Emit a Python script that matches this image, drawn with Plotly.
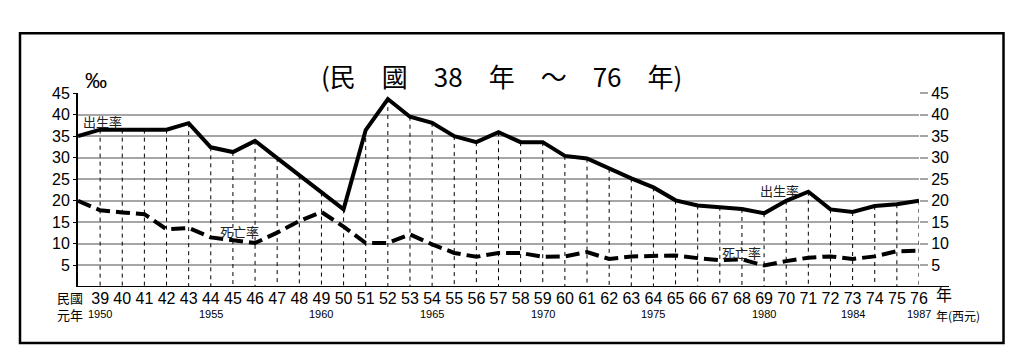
import plotly.graph_objects as go

# ---------------- data ----------------
years_roc = list(range(38, 77))  # 民國 38 .. 76
birth_rate = [35.0, 36.5, 36.5, 36.5, 36.5, 38.0, 32.4, 31.3, 33.9, 29.9,
              25.9, 21.9, 18.0, 36.4, 43.6, 39.5, 38.1, 35.0, 33.6, 35.9,
              33.6, 33.6, 30.4, 29.8, 27.4, 25.2, 23.1, 20.1, 18.9, 18.6,
              18.1, 17.1, 20.0, 22.1, 18.0, 17.4, 18.8, 19.2, 20.0]
death_rate = [20.0, 17.8, 17.3, 16.9, 13.4, 13.7, 11.5, 10.9, 10.2, 12.6,
              15.3, 17.4, 14.0, 10.2, 10.2, 12.2, 9.9, 7.9, 7.0, 7.9,
              7.9, 7.0, 7.1, 8.1, 6.5, 7.1, 7.2, 7.3, 6.7, 6.2,
              6.4, 5.0, 6.0, 6.8, 7.1, 6.5, 7.1, 8.3, 8.4]
tick_years = list(range(39, 77))
tick_labels = [str(v) for v in tick_years]
western_pos = [39, 44, 49, 54, 59, 64, 69, 73, 76]
western_labels = ["1950", "1955", "1960", "1965", "1970", "1975", "1980", "1984", "1987"]
y_ticks = [5, 10, 15, 20, 25, 30, 35, 40, 45]
title_text = "(民\u3000國\u300038\u3000年\u3000～\u300076\u3000年)"
series_labels = [("出生率", 39.1, 38.3), ("出生率", 69.7, 22.5),
                 ("死亡率", 45.3, 12.9), ("死亡率", 68.0, 8.1)]

# ---------------- layout constants ----------------
OFF = 8                      # page body margin of the rendered html
W, H = 1035, 363
PL, PT, PW, PH = 78, 93, 841, 194   # plot area in screen pixels
L, T = PL - OFF, PT - OFF
R, B = W - L - PW, H - T - PH
NUM_FONT = "Liberation Sans Narrow, Arial Narrow, Liberation Sans, Arial, sans-serif"
CJK_FONT = "Noto Sans CJK TC, Noto Sans CJK SC, sans-serif"


def px_x(px):
    return (px - PL) / PW


def px_y(py):
    return (PT + PH - py) / PH


fig = go.Figure()

# drop lines from birth-rate points to the axis
dx, dy = [], []
for xv, yv in zip(years_roc[1:], birth_rate[1:]):
    dx += [xv, xv, None]
    dy += [yv, 0, None]
fig.add_trace(go.Scatter(x=dx, y=dy, mode="lines",
                         line=dict(color="black", width=1, dash="4px,4px"),
                         hoverinfo="skip", showlegend=False))

fig.add_trace(go.Scatter(x=years_roc, y=death_rate, mode="lines",
                         line=dict(color="black", width=4, dash="14px,6px"),
                         name="死亡率", showlegend=False))
fig.add_trace(go.Scatter(x=years_roc, y=birth_rate, mode="lines",
                         line=dict(color="black", width=4),
                         name="出生率", showlegend=False))
# anchor trace for the right-hand axis
fig.add_trace(go.Scatter(x=years_roc, y=birth_rate, yaxis="y2", mode="lines",
                         line=dict(color="rgba(0,0,0,0)", width=0),
                         hoverinfo="skip", showlegend=False))

fig.update_layout(
    width=W, height=H,
    margin=dict(l=L, r=R, t=T, b=B),
    paper_bgcolor="white", plot_bgcolor="white",
    showlegend=False,
    xaxis=dict(range=[38, 76], tickvals=tick_years, ticktext=tick_labels,
               showgrid=False, zeroline=False, showline=False, ticks="",
               tickfont=dict(family=NUM_FONT, size=16, color="black"),
               fixedrange=True),
    yaxis=dict(range=[0, 45], tickvals=y_ticks, showgrid=True,
               gridcolor="#a6a6a6", gridwidth=1.5, zeroline=False,
               showline=True, linecolor="black", linewidth=2,
               ticks="outside", ticklen=3, tickcolor="black",
               tickfont=dict(family=NUM_FONT, size=16, color="black")),
    yaxis2=dict(range=[0, 45], tickvals=y_ticks, overlaying="y", side="right",
                showgrid=False, zeroline=False, showline=False,
                ticks="outside", ticklen=8, tickwidth=1.5, tickcolor="#a6a6a6",
                tickfont=dict(family=NUM_FONT, size=16, color="black")),
)

shapes = [
    # extended x-axis line
    dict(type="line", xref="paper", yref="y", x0=0, x1=px_x(949), y0=0, y1=0,
         line=dict(color="black", width=2)),
    # outer frame
    dict(type="rect", xref="paper", yref="paper",
         x0=px_x(20), x1=px_x(1003.5), y0=px_y(343), y1=px_y(33.3),
         line=dict(color="black", width=2.5)),
]
fig.update_layout(shapes=shapes)

ann = []
ann.append(dict(text=title_text, xref="paper", yref="paper", x=px_x(501), y=px_y(75),
                showarrow=False, font=dict(family=CJK_FONT, size=26, color="black"),
                xanchor="center", yanchor="middle"))
ann.append(dict(text="‰", xref="paper", yref="paper", x=px_x(96), y=px_y(80),
                showarrow=False, font=dict(family="Liberation Sans, Arial, sans-serif", size=22, color="black"),
                xanchor="center", yanchor="middle"))
for txt, xv, yv in series_labels:
    ann.append(dict(text=txt, x=xv, y=yv, xref="x", yref="y", showarrow=False,
                    font=dict(family=CJK_FONT, size=13, color="#222"),
                    xanchor="center", yanchor="middle"))
for xv, txt in zip(western_pos, western_labels):
    ann.append(dict(text=txt, x=xv, y=px_y(314), xref="x", yref="paper", showarrow=False,
                    font=dict(family="Liberation Sans, Arial, sans-serif", size=11, color="black"),
                    xanchor="center", yanchor="middle"))
ann.append(dict(text="民國", xref="paper", yref="paper", x=px_x(70), y=px_y(297),
                showarrow=False, font=dict(family=CJK_FONT, size=13, color="black"),
                xanchor="center", yanchor="middle"))
ann.append(dict(text="元年", xref="paper", yref="paper", x=px_x(70), y=px_y(314),
                showarrow=False, font=dict(family=CJK_FONT, size=13, color="black"),
                xanchor="center", yanchor="middle"))
ann.append(dict(text="年", xref="paper", yref="paper", x=px_x(944), y=px_y(294),
                showarrow=False, font=dict(family=CJK_FONT, size=16, color="black"),
                xanchor="center", yanchor="middle"))
ann.append(dict(text="年(西元)", xref="paper", yref="paper", x=px_x(934), y=px_y(315),
                showarrow=False, font=dict(family=CJK_FONT, size=12, color="black"),
                xanchor="left", yanchor="middle"))
fig.update_layout(annotations=ann)

fig.write_html("out.html")
